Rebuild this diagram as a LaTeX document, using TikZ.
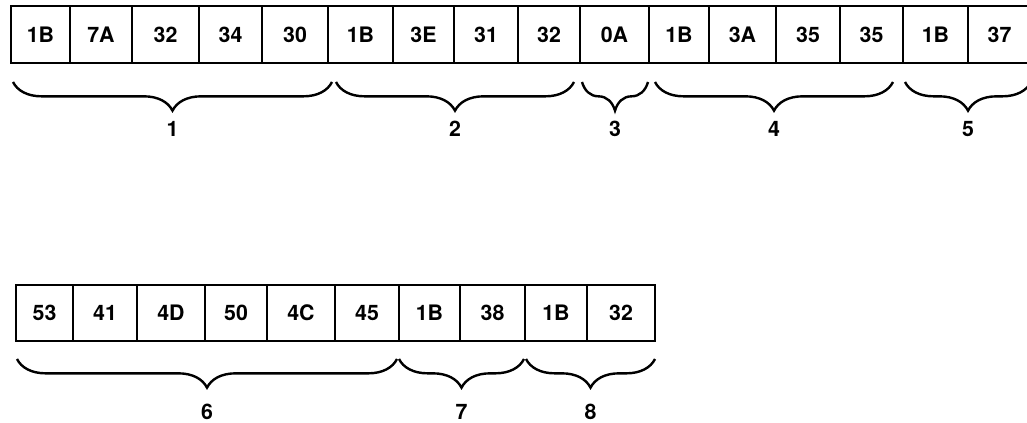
\documentclass[tikz,border=0pt]{standalone}
\usepackage{fontspec}
\setmainfont{TeX Gyre Heros}
\usetikzlibrary{decorations.pathreplacing,calc}
\begin{document}
\begin{tikzpicture}[x=0.75pt,y=-0.75pt,
  cell/.style={draw, line width=1.5pt, rectangle, inner sep=0pt,
    font=\fontsize{16}{19}\selectfont\bfseries},
  grp/.style={decorate, decoration={brace, mirror, amplitude=21.5pt},
    line width=1.8pt},
  lbl/.style={font=\fontsize{16}{19}\selectfont\bfseries, inner sep=0pt}]
\useasboundingbox (0,0) rectangle (1027,423);
\clip (0,0) rectangle (1027,423);
% top row
\foreach \l/\r/\t [count=\i] in {11/70/1B,70/132/7A,132/199/32,199/262/34,262/328/30,
  328/393/1B,393/454/3E,454/518/31,518/580/32,580/649/0A,649/709/1B,709/776/3A,
  776/840/35,840/903/35,903/968/1B,968/1031/37}{
  \pgfmathsetmacro\w{(\r-\l)*0.75}
  \pgfmathsetmacro\c{(\l+\r)/2}
  \node[cell, minimum width=\w pt, minimum height=42.75pt] (t\i) at (\c,34.5) {\t};
}
% bottom row
\foreach \l/\r/\t [count=\i] in {16/73/53,73/137/41,137/205/4D,205/267/50,267/335/4C,
  335/399/45,399/460/1B,460/525/38,525/587/1B,587/655/32}{
  \pgfmathsetmacro\w{(\r-\l)*0.75}
  \pgfmathsetmacro\c{(\l+\r)/2}
  \node[cell, minimum width=\w pt, minimum height=42pt] (b\i) at (\c,313) {\t};
}
% brace end points
\coordinate (a1) at (13,82);  \coordinate (e1) at (332,82);
\coordinate (a2) at (336,82); \coordinate (e2) at (574,82);
\coordinate (a3) at (582,82); \coordinate (e3) at (648,82);
\coordinate (a4) at (655,82); \coordinate (e4) at (893,82);
\coordinate (a5) at (905,82); \coordinate (e5) at (1031,82);
\coordinate (a6) at (17,359); \coordinate (e6) at (397,359);
\coordinate (a7) at (399,359); \coordinate (e7) at (524,359);
\coordinate (a8) at (526,359); \coordinate (e8) at (655,359);
\foreach \k in {1,...,8}{
  \draw[grp] (a\k) -- (e\k);
}
% labels
\foreach \k/\t in {1/1,2/2,3/3,4/4,5/5}{
  \node[lbl] (n\k) at ($(a\k)!0.5!(e\k)+(0,47)$) {\t};
}
\foreach \k/\t in {6/6,7/7,8/8}{
  \node[lbl] (n\k) at ($(a\k)!0.5!(e\k)+(0,53)$) {\t};
}
\end{tikzpicture}
\end{document}
